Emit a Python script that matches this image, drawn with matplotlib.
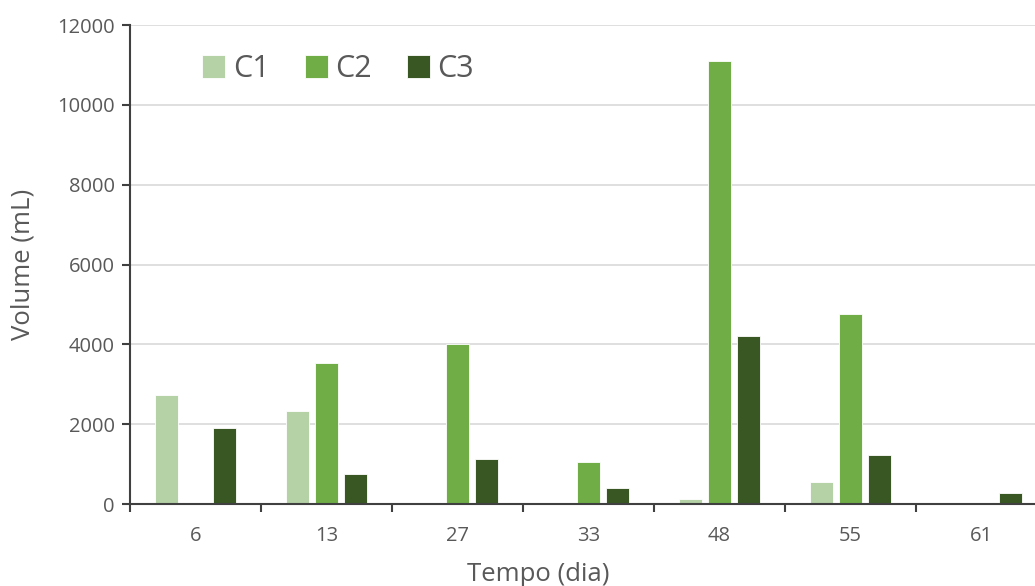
import matplotlib.pyplot as plt
import numpy as np

plt.rcParams['font.family'] = ['Open Sans', 'DejaVu Sans']

# Dados
dias = ['6', '13', '27', '33', '48', '55', '61']
c1 = [2740, 2330, 0, 0, 120, 555, 0]
c2 = [0, 3530, 4005, 1050, 11100, 4760, 0]
c3 = [1910, 755, 1130, 400, 4215, 1230, 278]

cores = ['#b5d1a6', '#70ad47', '#385723']
cinza = '#595959'

fig = plt.figure(figsize=(10.35, 5.86), dpi=100)
ax = fig.add_axes([130 / 1035, 1 - 504 / 586, 917 / 1035, 479 / 586])

x = np.arange(len(dias))
w = 0.177
desl = 0.222
for i, (serie, nome) in enumerate(zip([c1, c2, c3], ['C1', 'C2', 'C3'])):
    ax.bar(x + (i - 1) * desl, serie, width=w, color=cores[i],
           edgecolor='white', linewidth=0.6, label=nome, zorder=3)

ax.set_xlim(-0.5, len(dias) - 0.5)
ax.set_ylim(0, 12000)
ax.set_yticks(np.arange(0, 12001, 2000))
ax.set_xticks(x)
ax.set_xticklabels(dias)
ax.set_xticks(np.arange(-0.5, len(dias), 1), minor=True)
ax.grid(axis='y', color='#d9d9d9', linewidth=1.2, zorder=0)

for lado in ['top', 'right']:
    ax.spines[lado].set_visible(False)
for lado in ['left', 'bottom']:
    ax.spines[lado].set_color('#404040')
    ax.spines[lado].set_linewidth(1.5)
    ax.spines[lado].set_zorder(4)

ax.tick_params(axis='y', length=6, width=1.5, color='#404040',
               labelsize=14.5, labelcolor=cinza, pad=5)
ax.tick_params(axis='x', which='major', length=0, labelsize=14.5,
               labelcolor=cinza, pad=16)
ax.tick_params(axis='x', which='minor', length=6, width=1.5, color='#404040')

ax.set_ylabel('Volume (mL)', fontsize=18.5, color=cinza)
ax.yaxis.set_label_coords(-0.103, 0.5)
ax.set_xlabel('Tempo (dia)', fontsize=18.5, color=cinza)
ax.xaxis.set_label_coords(0.445, -0.122)

ax.legend(loc='upper left', bbox_to_anchor=(190 / 1035, 1 - 42 / 586),
          bbox_transform=fig.transFigure, ncol=3, frameon=False,
          fontsize=22, labelcolor=cinza, handlelength=0.75, handleheight=0.75,
          handletextpad=0.25, columnspacing=1.15, borderaxespad=0)

fig.savefig('out.png', dpi=100)
